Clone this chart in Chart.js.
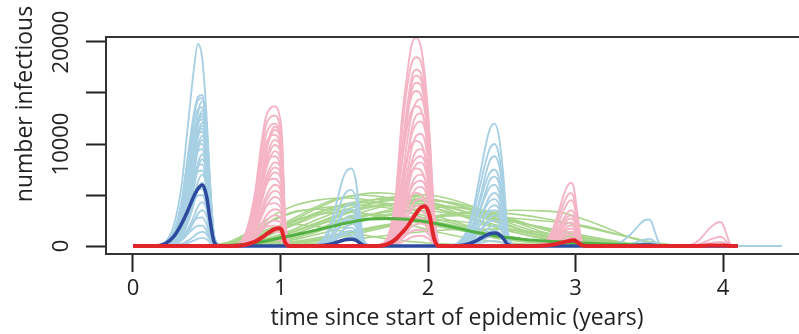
<!DOCTYPE html>
<html>
<head>
<meta charset="utf-8">
<script src="https://cdn.jsdelivr.net/npm/chart.js@4.4.1/dist/chart.umd.min.js"></script>
<style>
  html, body { margin: 0; padding: 0; background: #ffffff; overflow: hidden; }
  #wrap { width: 820px; height: 334px; }
</style>
</head>
<body>
<div id="wrap"><canvas id="chart" width="820" height="334"></canvas></div>
<script>
// ---- axis ticks ----
const xTickValues = [0, 1, 2, 3, 4];
const xTickLabels = ['0', '1', '2', '3', '4'];
const yTickValues = [0, 5000, 10000, 15000, 20000];
const yTickLabels = ['0', '', '10000', '', '20000'];

// ---- strain A (light blue runs, dark blue mean): time grid of each season, years ----
const blueTimes = [
  [0.14, 0.22, 0.28, 0.33, 0.37, 0.41, 0.44, 0.47, 0.50, 0.52, 0.55, 0.59],
  [1.18, 1.25, 1.30, 1.35, 1.39, 1.42, 1.45, 1.48, 1.51, 1.53, 1.56, 1.60],
  [2.12, 2.20, 2.26, 2.31, 2.35, 2.39, 2.42, 2.45, 2.48, 2.51, 2.54, 2.58],
  [3.20, 3.27, 3.32, 3.37, 3.41, 3.44, 3.47, 3.50, 3.52, 3.54, 3.57, 3.61]
];
// individual simulation runs, number infectious, one block per season
const blueRunsSeason1 = [
  [0, 400, 2200, 6000, 11500, 17000, 19800, 18300, 12500, 7000, 900, 0],
  [0, 300, 1500, 4400, 8600, 12700, 14600, 14800, 11000, 6200, 900, 0],
  [0, 290, 1450, 4350, 8400, 12500, 14300, 14500, 10900, 6100, 870, 0],
  [0, 150, 800, 2400, 5300, 9500, 13000, 14200, 11500, 6500, 950, 0],
  [0, 250, 1400, 4000, 7900, 11700, 13400, 13600, 10200, 5700, 850, 0],
  [0, 130, 670, 2100, 4800, 8600, 12000, 13300, 10900, 6100, 930, 0],
  [0, 130, 700, 2100, 4700, 8500, 11700, 13000, 10500, 6000, 900, 0],
  [0, 250, 1270, 3800, 7400, 10900, 12500, 12700, 9500, 5300, 760, 0],
  [0, 250, 1300, 3700, 7200, 10700, 12200, 12400, 9300, 5200, 800, 0],
  [0, 120, 600, 1940, 4360, 7870, 10900, 12100, 9900, 5570, 850, 0],
  [0, 120, 600, 1900, 4200, 7700, 10600, 11800, 9600, 5400, 800, 0],
  [0, 230, 1150, 3450, 6670, 9900, 11330, 11500, 8600, 4830, 690, 0],
  [0, 200, 1100, 3400, 6500, 9600, 11000, 11200, 8400, 4700, 700, 0],
  [0, 110, 540, 1730, 3890, 7020, 9720, 10800, 8860, 4970, 760, 0],
  [0, 100, 500, 1700, 3700, 6800, 9400, 10400, 8500, 4800, 700, 0],
  [0, 200, 1000, 3000, 5800, 8600, 9850, 10000, 7500, 4200, 600, 0],
  [0, 200, 1000, 2900, 5500, 8200, 9300, 9500, 7100, 4000, 600, 0],
  [0, 90, 450, 1440, 3240, 5850, 8100, 9000, 7380, 4140, 630, 0],
  [0, 90, 430, 1400, 3100, 5500, 7700, 8500, 7000, 3900, 580, 0],
  [0, 160, 800, 2400, 4640, 6880, 7880, 8000, 6000, 3360, 480, 0],
  [0, 150, 750, 2200, 4300, 6400, 7300, 7400, 5600, 3100, 470, 0],
  [0, 70, 350, 1120, 2520, 4550, 6300, 7000, 5740, 3220, 490, 0],
  [0, 60, 300, 1000, 2200, 4000, 5600, 6200, 5100, 2850, 420, 0],
  [0, 110, 560, 1680, 3250, 4820, 5520, 5600, 4200, 2350, 340, 0],
  [0, 100, 500, 1500, 2900, 4300, 4950, 5000, 3800, 2100, 320, 0],
  [0, 40, 215, 690, 1550, 2800, 3870, 4300, 3530, 1980, 300, 0],
  [0, 40, 180, 560, 1260, 2300, 3150, 3500, 2900, 1600, 240, 0],
  [0, 56, 280, 840, 1620, 2410, 2760, 2800, 2100, 1180, 170, 0],
  [0, 40, 200, 600, 1160, 1720, 1980, 2000, 1500, 850, 130, 0],
  [0, 14, 70, 220, 500, 910, 1260, 1400, 1150, 640, 100, 0],
  [0, 10, 40, 130, 290, 520, 720, 800, 660, 370, 55, 0]
];
const blueRunsSeason2 = [
  [0, 200, 900, 2600, 4800, 6500, 7400, 7600, 6500, 4200, 900, 0],
  [0, 140, 660, 1870, 3470, 4700, 5340, 5500, 4730, 3030, 660, 0],
  [0, 80, 400, 1200, 2400, 3400, 4000, 4200, 3700, 2400, 500, 0],
  [0, 90, 430, 1220, 2270, 3080, 3490, 3600, 3100, 1980, 430, 0],
  [0, 60, 300, 900, 1700, 2400, 2850, 3000, 2650, 1700, 360, 0],
  [0, 70, 310, 880, 1640, 2220, 2520, 2600, 2240, 1430, 310, 0],
  [0, 30, 150, 500, 1000, 1500, 1950, 2200, 1950, 1250, 270, 0],
  [0, 50, 220, 610, 1130, 1540, 1750, 1800, 1550, 990, 220, 0],
  [0, 30, 150, 450, 850, 1200, 1420, 1500, 1330, 850, 180, 0],
  [0, 30, 140, 410, 760, 1030, 1160, 1200, 1030, 660, 140, 0],
  [0, 10, 60, 200, 420, 640, 820, 900, 800, 510, 110, 0],
  [0, 15, 70, 200, 380, 510, 580, 600, 520, 330, 70, 0]
];
const blueRunsSeason3 = [
  [0, 300, 1400, 3800, 6800, 9800, 11500, 12000, 10800, 7000, 1500, 0],
  [0, 250, 1200, 3200, 5700, 8200, 9600, 10000, 9000, 5800, 1250, 0],
  [0, 150, 800, 2300, 4500, 7000, 8400, 8800, 8000, 5200, 1100, 0],
  [0, 190, 900, 2400, 4280, 6150, 7200, 7500, 6750, 4350, 940, 0],
  [0, 120, 600, 1800, 3500, 5300, 6500, 6800, 6200, 4000, 850, 0],
  [0, 150, 720, 1920, 3420, 4920, 5760, 6000, 5400, 3480, 750, 0],
  [0, 80, 400, 1300, 2600, 4000, 4900, 5200, 4800, 3100, 650, 0],
  [0, 115, 550, 1470, 2620, 3770, 4420, 4600, 4140, 2670, 575, 0],
  [0, 60, 300, 1000, 2000, 3000, 3750, 4000, 3700, 2400, 500, 0],
  [0, 90, 420, 1120, 2000, 2870, 3360, 3500, 3150, 2030, 440, 0],
  [0, 45, 220, 720, 1450, 2200, 2800, 3000, 2800, 1800, 380, 0],
  [0, 60, 300, 800, 1430, 2050, 2400, 2500, 2250, 1450, 310, 0],
  [0, 30, 150, 480, 960, 1460, 1860, 2000, 1860, 1200, 250, 0],
  [0, 40, 180, 480, 860, 1230, 1440, 1500, 1350, 870, 190, 0],
  [0, 15, 75, 240, 480, 730, 930, 1000, 930, 600, 125, 0],
  [0, 12, 60, 160, 290, 410, 480, 500, 450, 290, 60, 0]
];
const blueRunsSeason4 = [
  [0, 150, 500, 1100, 1700, 2200, 2550, 2600, 2200, 1300, 200, 0],
  [0, 20, 80, 200, 350, 500, 630, 700, 600, 360, 60, 0],
  [0, 10, 40, 100, 175, 250, 315, 350, 300, 180, 30, 0]
];
const blueMean = [
  [0, 250, 1000, 2200, 3400, 4800, 5600, 5980, 4800, 2800, 400, 0],
  [0, 20, 80, 220, 400, 540, 630, 660, 580, 380, 80, 0],
  [0, 30, 150, 400, 700, 1000, 1200, 1270, 1150, 750, 150, 0],
  [0, 5, 15, 35, 55, 75, 90, 95, 80, 50, 8, 0]
];

// ---- strain B (pink runs, red mean) ----
const pinkTimes = [
  [0.66, 0.73, 0.78, 0.83, 0.87, 0.90, 0.93, 0.96, 0.99, 1.01, 1.03, 1.06],
  [1.66, 1.73, 1.78, 1.82, 1.86, 1.89, 1.92, 1.95, 1.98, 2.01, 2.04, 2.07],
  [2.70, 2.77, 2.82, 2.86, 2.89, 2.92, 2.95, 2.97, 2.99, 3.01, 3.04, 3.08],
  [3.72, 3.78, 3.83, 3.87, 3.90, 3.93, 3.96, 3.98, 4.00, 4.02, 4.05, 4.08]
];
const pinkRunsSeason1 = [
  [0, 400, 2000, 5500, 10000, 12600, 13500, 13700, 13000, 10800, 3000, 0],
  [0, 380, 1920, 5120, 9340, 11780, 12610, 12800, 12160, 10110, 2820, 0],
  [0, 300, 1500, 4400, 8300, 10800, 11800, 12000, 11500, 9500, 2600, 0],
  [0, 230, 1170, 3510, 6790, 9360, 11000, 11700, 11350, 9360, 2570, 0],
  [0, 230, 1140, 3400, 6600, 9100, 10700, 11400, 11000, 9100, 2500, 0],
  [0, 330, 1640, 4360, 7960, 10030, 10740, 10900, 10360, 8610, 2400, 0],
  [0, 210, 1040, 3100, 6000, 8300, 9800, 10400, 10100, 8300, 2300, 0],
  [0, 200, 990, 2970, 5740, 7920, 9310, 9900, 9600, 7920, 2180, 0],
  [0, 190, 930, 2800, 5400, 7400, 8700, 9300, 9000, 7400, 2050, 0],
  [0, 260, 1320, 3520, 6420, 8100, 8670, 8800, 8360, 6950, 1940, 0],
  [0, 160, 820, 2500, 4800, 6600, 7700, 8200, 8000, 6600, 1800, 0],
  [0, 150, 770, 2310, 4470, 6160, 7240, 7700, 7470, 6160, 1690, 0],
  [0, 140, 720, 2200, 4200, 5800, 6800, 7200, 7000, 5800, 1600, 0],
  [0, 200, 990, 2640, 4820, 6070, 6500, 6600, 6270, 5210, 1450, 0],
  [0, 120, 600, 1800, 3500, 4800, 5600, 6000, 5800, 4800, 1300, 0],
  [0, 110, 540, 1620, 3130, 4320, 5080, 5400, 5240, 4320, 1190, 0],
  [0, 100, 480, 1440, 2800, 3800, 4500, 4800, 4650, 3840, 1050, 0],
  [0, 130, 630, 1680, 3070, 3860, 4140, 4200, 3990, 3320, 920, 0],
  [0, 70, 360, 1080, 2100, 2900, 3400, 3600, 3500, 2900, 800, 0],
  [0, 60, 300, 900, 1740, 2400, 2820, 3000, 2910, 2400, 660, 0],
  [0, 50, 250, 750, 1450, 2000, 2350, 2500, 2420, 2000, 550, 0],
  [0, 60, 300, 800, 1460, 1840, 1970, 2000, 1900, 1580, 440, 0],
  [0, 30, 140, 420, 810, 1120, 1320, 1400, 1360, 1120, 310, 0],
  [0, 12, 60, 180, 350, 480, 560, 600, 580, 480, 130, 0]
];
const pinkRunsSeason2 = [
  [0, 1000, 4800, 12000, 17000, 19800, 20400, 19600, 16500, 11000, 3500, 0],
  [0, 900, 4260, 10730, 15730, 17950, 18500, 18130, 15910, 10730, 3330, 0],
  [0, 700, 3500, 9000, 13800, 16600, 17300, 17000, 14800, 10000, 3100, 0],
  [0, 600, 3200, 8500, 13200, 16000, 16700, 16400, 14300, 9700, 3000, 0],
  [0, 500, 2800, 7800, 12500, 15300, 16000, 15800, 13800, 9300, 2900, 0],
  [0, 760, 3500, 8820, 12920, 14740, 15200, 14900, 13070, 8820, 2740, 0],
  [0, 430, 2160, 6050, 10370, 12960, 14110, 14400, 13390, 9360, 2880, 0],
  [0, 690, 3150, 7950, 11650, 13290, 13700, 13430, 11780, 7950, 2470, 0],
  [0, 300, 1600, 4600, 8500, 11500, 12800, 13000, 12000, 8200, 2500, 0],
  [0, 370, 1830, 5120, 8780, 10980, 11960, 12200, 11350, 7930, 2440, 0],
  [0, 250, 1300, 3800, 7100, 9600, 10800, 11000, 10200, 7000, 2100, 0],
  [0, 520, 2370, 5970, 8760, 9990, 10300, 10090, 8860, 5970, 1850, 0],
  [0, 200, 1100, 3300, 6100, 8300, 9300, 9500, 8800, 6000, 1800, 0],
  [0, 260, 1320, 3700, 6340, 7920, 8620, 8800, 8180, 5720, 1760, 0],
  [0, 170, 950, 2800, 5300, 7200, 8000, 8200, 7600, 5200, 1600, 0],
  [0, 380, 1750, 4410, 6460, 7370, 7600, 7450, 6540, 4410, 1370, 0],
  [0, 150, 800, 2400, 4500, 6100, 6850, 7000, 6500, 4400, 1350, 0],
  [0, 190, 960, 2690, 4610, 5760, 6270, 6400, 5950, 4160, 1280, 0],
  [0, 120, 660, 2000, 3700, 5000, 5650, 5800, 5400, 3650, 1100, 0],
  [0, 260, 1200, 3020, 4420, 5040, 5200, 5100, 4470, 3020, 940, 0],
  [0, 100, 520, 1600, 2950, 4000, 4500, 4600, 4300, 2900, 900, 0],
  [0, 120, 600, 1680, 2880, 3600, 3920, 4000, 3720, 2600, 800, 0],
  [0, 70, 390, 1180, 2180, 2950, 3320, 3400, 3150, 2150, 650, 0],
  [0, 140, 640, 1620, 2380, 2720, 2800, 2740, 2410, 1620, 500, 0],
  [0, 45, 250, 760, 1400, 1900, 2150, 2200, 2050, 1400, 420, 0],
  [0, 50, 240, 670, 1150, 1440, 1570, 1600, 1490, 1040, 320, 0],
  [0, 20, 110, 350, 640, 870, 980, 1000, 930, 630, 190, 0]
];
const pinkRunsSeason3 = [
  [0, 200, 900, 2200, 3600, 5000, 6000, 6200, 5600, 3500, 600, 0],
  [0, 170, 750, 1850, 3020, 4210, 5040, 5200, 4680, 2940, 500, 0],
  [0, 130, 600, 1500, 2500, 3500, 4300, 4500, 4100, 2600, 450, 0],
  [0, 100, 470, 1150, 1950, 2700, 3350, 3500, 3200, 2000, 350, 0],
  [0, 100, 440, 1070, 1740, 2430, 2910, 3000, 2700, 1700, 290, 0],
  [0, 80, 360, 900, 1500, 2100, 2600, 2700, 2450, 1550, 270, 0],
  [0, 70, 330, 820, 1330, 1860, 2230, 2300, 2070, 1300, 220, 0],
  [0, 60, 270, 660, 1100, 1550, 1920, 2000, 1800, 1150, 200, 0],
  [0, 50, 250, 600, 990, 1380, 1650, 1700, 1530, 960, 160, 0],
  [0, 40, 190, 460, 780, 1080, 1340, 1400, 1270, 800, 140, 0],
  [0, 35, 160, 390, 640, 890, 1070, 1100, 990, 620, 110, 0],
  [0, 25, 110, 270, 450, 620, 770, 800, 720, 460, 80, 0],
  [0, 16, 70, 180, 290, 400, 490, 500, 450, 280, 50, 0]
];
const pinkRunsSeason4 = [
  [0, 100, 500, 1100, 1600, 2000, 2300, 2350, 2100, 1300, 200, 0],
  [0, 30, 150, 350, 550, 720, 850, 900, 800, 500, 80, 0],
  [0, 15, 70, 160, 250, 320, 380, 400, 360, 220, 35, 0]
];
const redMean = [
  [0, 50, 200, 450, 800, 1100, 1400, 1650, 1750, 1500, 400, 0],
  [0, 200, 650, 1250, 1900, 2550, 3200, 3750, 3900, 3000, 800, 0],
  [0, 20, 80, 170, 270, 380, 480, 540, 560, 400, 80, 0],
  [0, 3, 12, 25, 40, 50, 58, 60, 55, 35, 6, 0]
];

// ---- strain C (light green runs, green mean): one slow wave ----
const greenTimes = [0.5, 0.65, 0.8, 0.95, 1.1, 1.25, 1.4, 1.55, 1.7, 1.85, 2.0, 2.15,
                    2.3, 2.45, 2.6, 2.75, 2.9, 3.05, 3.2, 3.35, 3.5, 3.7];
const greenRuns = [
  [0, 200, 700, 1500, 2600, 3700, 4600, 5100, 5200, 4900, 4300, 3500, 2700, 1900, 1300, 800, 450, 250, 120, 50, 10, 0],
  [0, 50, 200, 600, 1200, 2000, 2900, 3800, 4500, 4900, 5000, 4600, 3900, 3100, 2300, 1500, 900, 500, 250, 100, 30, 0],
  [0, 400, 1500, 3000, 4000, 4500, 4700, 4600, 4100, 3400, 2600, 1900, 1300, 800, 500, 280, 150, 70, 30, 10, 0, 0],
  [0, 30, 150, 450, 950, 1650, 2500, 3300, 3900, 4300, 4450, 4300, 3800, 3200, 2500, 1800, 1150, 650, 320, 140, 40, 0],
  [0, 0, 40, 120, 300, 600, 1000, 1450, 1950, 2450, 2850, 3150, 3350, 3450, 3500, 3450, 3300, 2650, 1850, 950, 350, 0],
  [0, 20, 100, 300, 650, 1150, 1750, 2400, 3000, 3450, 3750, 3800, 3600, 3100, 2500, 1800, 1150, 650, 300, 120, 40, 0],
  [0, 300, 1200, 2600, 3400, 3600, 3500, 3200, 2700, 2200, 1600, 1100, 700, 420, 240, 130, 60, 25, 10, 0, 0, 0],
  [0, 100, 400, 900, 1500, 2100, 2600, 2950, 3050, 2900, 2550, 2100, 1600, 1150, 750, 450, 250, 120, 50, 20, 0, 0],
  [0, 10, 60, 200, 450, 800, 1200, 1650, 2050, 2400, 2550, 2500, 2250, 1900, 1500, 1100, 700, 400, 200, 80, 20, 0],
  [0, 300, 1000, 1800, 2100, 1900, 1500, 1100, 750, 480, 300, 170, 90, 40, 15, 0, 0, 0, 0, 0, 0, 0],
  [0, 150, 550, 1250, 2200, 3200, 3900, 4250, 4200, 3800, 3200, 2500, 1850, 1250, 800, 480, 260, 130, 60, 20, 0, 0],
  [0, 0, 20, 60, 150, 300, 500, 750, 1000, 1250, 1450, 1600, 1650, 1650, 1550, 1350, 1100, 800, 500, 250, 80, 0],
  [0, 80, 350, 900, 1700, 2600, 3400, 4000, 4400, 4500, 4300, 3800, 3100, 2400, 1700, 1100, 650, 350, 160, 60, 15, 0],
  [0, 0, 30, 100, 250, 500, 850, 1300, 1800, 2300, 2750, 3100, 3250, 3250, 3100, 2800, 2400, 1900, 1400, 900, 450, 0],
  [0, 250, 800, 1700, 2800, 3900, 4700, 5000, 4800, 4500, 4600, 4200, 3500, 2600, 1800, 1100, 650, 350, 160, 60, 15, 0],
  [0, 120, 500, 1200, 2100, 3000, 3700, 4300, 4700, 4900, 4700, 4200, 3600, 2800, 2000, 1300, 800, 420, 200, 80, 20, 0],
  [0, 60, 250, 700, 1400, 2200, 3000, 3600, 4000, 4200, 4100, 3700, 3200, 2700, 2300, 1900, 1400, 900, 500, 220, 60, 0],
  [0, 350, 1300, 2500, 3300, 3700, 3900, 4000, 3800, 3400, 2900, 2300, 1700, 1200, 800, 500, 300, 150, 60, 20, 0, 0],
  [0, 20, 100, 350, 800, 1400, 2100, 2800, 3400, 3800, 4000, 3900, 3500, 3000, 2400, 1800, 1200, 700, 350, 150, 50, 0],
  [0, 150, 600, 1400, 2400, 3300, 4000, 4400, 4600, 4400, 3900, 3300, 2600, 1900, 1300, 850, 500, 250, 110, 40, 10, 0],
  [0, 40, 180, 500, 1000, 1650, 2300, 2900, 3300, 3500, 3450, 3200, 2900, 2600, 2300, 1900, 1500, 1050, 650, 300, 100, 0],
  [0, 200, 750, 1600, 2500, 3100, 3300, 3200, 2900, 2500, 2100, 1700, 1300, 950, 650, 400, 220, 110, 50, 15, 0, 0],
  [0, 80, 300, 800, 1500, 2300, 3100, 3700, 4100, 4100, 3800, 3300, 2700, 2100, 1500, 1000, 600, 320, 150, 60, 15, 0],
  [0, 10, 50, 150, 350, 650, 1050, 1500, 1950, 2350, 2700, 2950, 3000, 2900, 2700, 2500, 2300, 2000, 1500, 900, 350, 0]
];
const greenMeanTimes = [0.5, 0.7, 0.85, 1.0, 1.15, 1.3, 1.45, 1.6, 1.75, 1.9, 2.05, 2.2,
                        2.35, 2.5, 2.65, 2.8, 3.0, 3.2, 3.4, 3.6, 3.8, 4.1];
const greenMean = [0, 100, 350, 800, 1250, 1750, 2250, 2650, 2700, 2550, 2200, 1750,
                   1270, 900, 650, 480, 320, 200, 120, 60, 30, 10];

// time span of the runs (years)
const runStart = 0;
const runEndLight = 4.4;
const runEndMean = 4.1;

// ---- colours ----
const colLightBlue = '#a8d0e4';
const colPink = '#f5b4c5';
const colLightGreen = '#a9d68c';
const colDarkBlue = '#2d4b9e';
const colRed = '#e2252b';
const colGreen = '#52b043';
const fontFamily = '"Open Sans", "DejaVu Sans", sans-serif';

// ---- helpers to turn the arrays into {x, y} points ----
function toPoints(times, values) {
  return times.map((t, i) => ({ x: t, y: values[i] }));
}
function seasonalSeries(timesList, valuesList, end) {
  let pts = [{ x: runStart, y: 0 }];
  timesList.forEach((times, s) => { pts = pts.concat(toPoints(times, valuesList[s])); });
  pts.push({ x: end, y: 0 });
  return pts;
}
function runDataset(points, color, order) {
  return {
    data: points, borderColor: color, borderWidth: 1.9, pointRadius: 0,
    cubicInterpolationMode: 'monotone', fill: false, order: order
  };
}

const datasets = [];
// means on top
datasets.push({ data: seasonalSeries(pinkTimes, redMean, runEndMean), borderColor: colRed,
  borderWidth: 4, pointRadius: 0, cubicInterpolationMode: 'monotone', order: 0 });
datasets.push({ data: seasonalSeries(blueTimes, blueMean, runEndMean), borderColor: colDarkBlue,
  borderWidth: 3.5, pointRadius: 0, cubicInterpolationMode: 'monotone', order: 1 });
datasets.push({ data: [{ x: runStart, y: 0 }].concat(toPoints(greenMeanTimes, greenMean)),
  borderColor: colGreen, borderWidth: 3, pointRadius: 0, cubicInterpolationMode: 'monotone', order: 2 });

// pink runs
[pinkRunsSeason1, pinkRunsSeason2, pinkRunsSeason3, pinkRunsSeason4].forEach((runs, s) => {
  runs.forEach(r => datasets.push(runDataset(toPoints(pinkTimes[s], r), colPink, 3)));
});
// light blue runs, plus their flat tail at zero
[blueRunsSeason1, blueRunsSeason2, blueRunsSeason3, blueRunsSeason4].forEach((runs, s) => {
  runs.forEach(r => datasets.push(runDataset(toPoints(blueTimes[s], r), colLightBlue, 4)));
});
datasets.push(runDataset([{ x: runStart, y: 0 }, { x: runEndLight, y: 0 }], colLightBlue, 4));
// light green runs
greenRuns.forEach(r => {
  const ds = runDataset(toPoints(greenTimes, r), colLightGreen, 5);
  ds.cubicInterpolationMode = 'default';
  ds.tension = 0.2;
  ds.borderWidth = 1.6;
  datasets.push(ds);
});

// frame around the plotting region and the rotated y title
const framePlugin = {
  id: 'frame',
  afterDraw(chart) {
    const { ctx, chartArea: a } = chart;
    ctx.save();
    ctx.strokeStyle = '#333333';
    ctx.lineWidth = 2;
    ctx.strokeRect(a.left, a.top, a.right - a.left, a.bottom - a.top);
    ctx.fillStyle = '#222222';
    ctx.font = '23px ' + fontFamily;
    ctx.textAlign = 'center';
    ctx.textBaseline = 'middle';
    ctx.translate(25, 104);
    ctx.rotate(-Math.PI / 2);
    ctx.fillText('number infectious', 0, 0);
    ctx.restore();
  }
};

new Chart(document.getElementById('chart'), {
  type: 'line',
  data: { datasets },
  plugins: [framePlugin],
  options: {
    responsive: false,
    animation: false,
    devicePixelRatio: 1,
    layout: { padding: { left: 0, top: 37, right: 12, bottom: 0 } },
    plugins: { legend: { display: false }, tooltip: { enabled: false } },
    elements: { point: { radius: 0 } },
    scales: {
      x: {
        type: 'linear', position: 'bottom', min: -0.183, max: 4.576,
        afterBuildTicks: s => { s.ticks = xTickValues.map(v => ({ value: v })); },
        afterFit: s => { s.height = 80; },
        border: { display: false },
        grid: { drawOnChartArea: false, drawTicks: true, tickLength: 18, tickWidth: 2, tickColor: '#222222' },
        ticks: {
          color: '#222222', font: { family: fontFamily, size: 22 }, padding: 4,
          autoSkip: false, maxRotation: 0, minRotation: 0,
          callback: (v, i) => xTickLabels[i]
        },
        title: {
          display: true, text: 'time since start of epidemic (years)', color: '#222222',
          font: { family: fontFamily, size: 23, lineHeight: 1.2 }, padding: { top: 0, bottom: 2 }
        }
      },
      y: {
        type: 'linear', position: 'left', min: -784, max: 20490,
        afterBuildTicks: s => { s.ticks = yTickValues.map(v => ({ value: v })); },
        afterFit: s => { s.width = 106; },
        border: { display: false },
        grid: { drawOnChartArea: false, drawTicks: true, tickLength: 20, tickWidth: 2, tickColor: '#222222' },
        ticks: {
          color: '#222222', font: { family: fontFamily, size: 22 }, padding: -7,
          autoSkip: false, minRotation: 90, maxRotation: 90, crossAlign: 'center',
          callback: (v, i) => yTickLabels[i]
        }
      }
    }
  }
});
</script>
</body>
</html>
